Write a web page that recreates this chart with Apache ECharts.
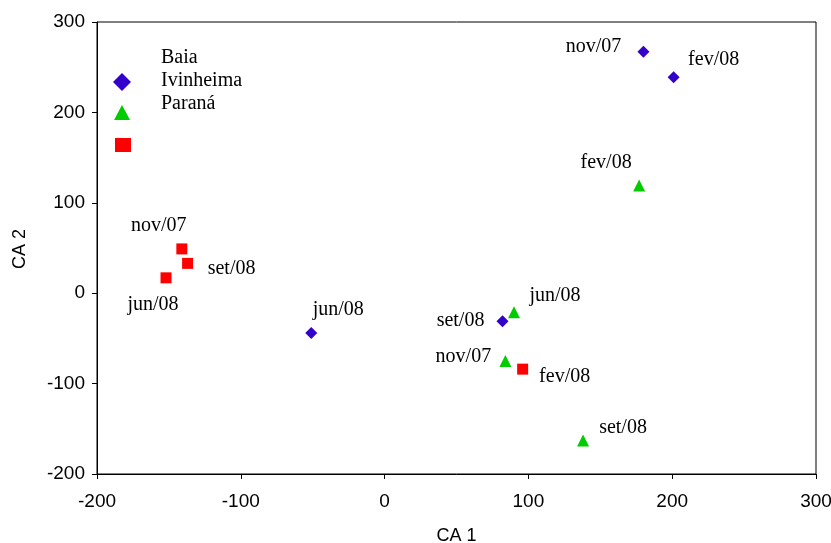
<!DOCTYPE html>
<html><head><meta charset="utf-8">
<script src="https://cdn.jsdelivr.net/npm/echarts@6/dist/echarts.min.js"></script>
<style>html,body{margin:0;padding:0;background:#fff}#c{width:831px;height:543px}</style>
</head><body><div id="c"></div>
<script>
const seriesNames = ['Baia', 'Ivinheima', 'Paraná'];
const baiaLabels = ['nov/07', 'fev/08', 'jun/08', 'set/08'];
const baiaX = [180, 201, -51, 82];
const baiaY = [267, 239, -44, -31];
const ivinLabels = ['fev/08', 'jun/08', 'nov/07', 'set/08'];
const ivinX = [177, 90, 84, 138];
const ivinY = [119, -21, -75, -163];
const paranaLabels = ['nov/07', 'set/08', 'jun/08', 'fev/08'];
const paranaX = [-141, -137, -152, 96];
const paranaY = [49, 33, 17, -84];
const xTicks = [-200, -100, 0, 100, 200, 300];
const yTicks = [-200, -100, 0, 100, 200, 300];

// label offsets (layout only)
const baiaOff = [[-50,-5],[40,-17],[27,-23],[-42,0]];
const ivinOff = [[-33,-23],[41,-16],[-42,-4],[40,-13]];
const paranaOff = [[-23,-23],[44,5],[-13,27],[42,8]];

const serif = 'Liberation Serif';
const sans = 'Liberation Sans';

function build(xs, ys, labels, offs) {
  return xs.map((x, i) => ({
    value: [x, ys[i]],
    name: labels[i],
    label: { offset: offs[i] }
  }));
}
const lbl = {
  show: true, position: 'inside', formatter: p => p.name,
  fontFamily: serif, fontSize: 20, color: '#000',
  align: 'center', verticalAlign: 'middle'
};

const chart = echarts.init(document.getElementById('c'), null, {renderer: 'canvas'});
chart.setOption({
  animation: false,
  backgroundColor: '#fff',
  grid: { left: 97, top: 22, right: 15, bottom: 69, containLabel: false, outerBoundsMode: 'none',
          show: true, borderColor: '#000', borderWidth: 1, backgroundColor: 'transparent' },
  xAxis: {
    type: 'value', min: xTicks[0], max: xTicks[xTicks.length-1], interval: 100,
    name: 'CA 1', nameLocation: 'middle', nameGap: 53,
    nameTextStyle: { fontFamily: sans, fontSize: 18, color: '#000' },
    axisLine: { show: true, onZero: false, lineStyle: { color: '#000', width: 1 } },
    axisTick: { show: true, inside: false, length: 5, lineStyle: { color: '#000' } },
    axisLabel: { fontFamily: sans, fontSize: 19, color: '#000', margin: 18, hideOverlap: false },
    splitLine: { show: false }
  },
  yAxis: {
    type: 'value', min: yTicks[0], max: yTicks[yTicks.length-1], interval: 100,
    axisLine: { show: true, onZero: false, lineStyle: { color: '#000', width: 1 } },
    axisTick: { show: true, inside: false, length: 5, lineStyle: { color: '#000' } },
    axisLabel: { fontFamily: sans, fontSize: 19, color: '#000', margin: 12 },
    splitLine: { show: false }
  },
  series: [
    { name: seriesNames[0], type: 'scatter', symbol: 'diamond', symbolSize: 12,
      itemStyle: { color: '#3300CC', opacity: 1 }, label: lbl, data: build(baiaX, baiaY, baiaLabels, baiaOff) },
    { name: seriesNames[1], type: 'scatter', symbol: 'triangle', symbolSize: 12,
      itemStyle: { color: '#00CC00', opacity: 1 }, label: lbl, data: build(ivinX, ivinY, ivinLabels, ivinOff) },
    { name: seriesNames[2], type: 'scatter', symbol: 'rect', symbolSize: 11,
      itemStyle: { color: '#FF0000', opacity: 1 }, label: lbl, data: build(paranaX, paranaY, paranaLabels, paranaOff) }
  ],
  graphic: [
    { type: 'text', x: 20, y: 249, rotation: Math.PI/2,
      style: { text: 'CA 2', font: '18px ' + sans, fill: '#000', textAlign: 'center', textVerticalAlign: 'middle' } },
    { type: 'text', x: 161, y: 58, style: { text: seriesNames[0], font: '20px ' + serif, fill: '#000', textVerticalAlign: 'middle' } },
    { type: 'text', x: 161, y: 81, style: { text: seriesNames[1], font: '20px ' + serif, fill: '#000', textVerticalAlign: 'middle' } },
    { type: 'text', x: 161, y: 104, style: { text: seriesNames[2], font: '20px ' + serif, fill: '#000', textVerticalAlign: 'middle' } },
    { type: 'polygon', shape: { points: [[122,73],[131,82],[122,91],[113,82]] }, style: { fill: '#3300CC' } },
    { type: 'polygon', shape: { points: [[122,105],[130,120],[114,120]] }, style: { fill: '#00CC00' } },
    { type: 'rect', shape: { x: 115, y: 138, width: 16, height: 14 }, style: { fill: '#FF0000' } }
  ]
});
</script></body></html>
